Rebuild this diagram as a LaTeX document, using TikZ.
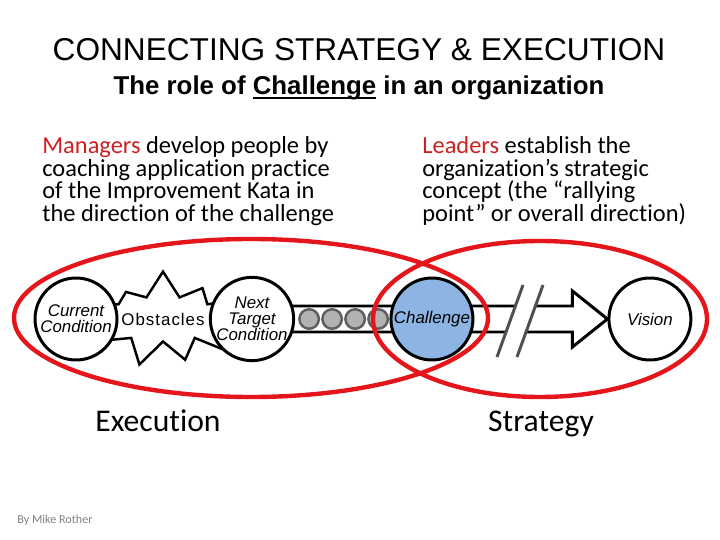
\documentclass[tikz,border=0pt]{standalone}
\usepackage{fontspec}
\setmainfont{Liberation Sans}
\newfontfamily\calibri{Carlito}[Ligatures=NoCommon]
\usetikzlibrary{positioning,calc,shapes.symbols,backgrounds}

\definecolor{ringred}{RGB}{228,22,28}
\definecolor{leadred}{RGB}{205,32,32}
\definecolor{chalblue}{RGB}{141,180,226}
\definecolor{beadgray}{RGB}{178,178,178}
\definecolor{beadedge}{RGB}{95,95,95}
\definecolor{breakgray}{RGB}{80,80,80}

% underline close to the baseline
\newcommand\chalul[1]{\setbox0\hbox{#1}\rlap{\rule[-2.2pt]{\wd0}{1.1pt}}#1}

\tikzset{
  cond/.style={circle, draw, line width=1.7pt, fill=white, minimum size=1.64cm,
    inner sep=0pt, align=center, font=\fontsize{9.6}{9}\selectfont\itshape},
  burst/.style={starburst, draw, line width=1.4pt, fill=white, minimum width=2.2cm,
    minimum height=2cm, starburst points=11, starburst point height=0.55cm,
    random starburst=7, inner sep=0pt},
  bead/.style={circle, draw=beadedge, fill=beadgray, line width=1.4pt,
    minimum size=0.39cm, inner sep=0pt},
  blockarrow/.style={draw, line width=1.7pt, fill=white, line join=miter},
  ring/.style={draw=ringred, line width=2.5pt},
  breakline/.style={draw=breakgray, line width=1.7pt},
  blurb/.style={align=left, inner sep=0pt, anchor=north west,
    font=\calibri\fontsize{13.9}{13}\selectfont},
  part/.style={anchor=base, font=\calibri\fontsize{18}{18}\selectfont},
}

\begin{document}
\begin{tikzpicture}[x=0.02cm, y=-0.02cm, on grid]
\useasboundingbox (0,0) rectangle (720,540);

% headings
\node[anchor=base] (title) at (359,61) {\fontsize{18}{18}\selectfont CONNECTING STRATEGY \& EXECUTION};
\node[anchor=base] (sub) at (359,95) {\fontsize{14.7}{15}\selectfont\bfseries The role of \chalul{Challenge} in an organization};

% who does what
\node[blurb] (mgr) at (42,136) {\textcolor{leadred}{Managers} develop people by\\
  coaching application practice\\
  of the Improvement Kata in\\
  the direction of the challenge};
\node[blurb] (ldr) at (422,136) {\textcolor{leadred}{Leaders} establish the\\
  organization’s strategic\\
  concept (the “rallying\\
  point” or overall direction)};

% the kata chain
\node[burst] (obst) at (163,319) {\addfontfeature{LetterSpace=6}\fontsize{9.6}{10}\selectfont Obstacles};
\node[cond, left=1.74cm of obst] (cur) {Current\\Condition};
\node[cond, right=1.78cm of obst] (next) {Next\\Target\\Condition};
\node[cond, fill=chalblue, right=3.6cm of next] (chal) {Challenge};
\node[cond, right=4.36cm of chal] (vis) {Vision};

\begin{scope}[on background layer]
  \draw[blockarrow] ($(next.center)+(0,-13)$) -- ($(vis.west)+(-35,-13)$)
    -- ($(vis.west)+(-35,-28)$) -- (vis.west) -- ($(vis.west)+(-35,28)$)
    -- ($(vis.west)+(-35,13)$) -- ($(next.center)+(0,13)$) -- cycle;
\end{scope}

\foreach \i in {0,...,3}
  \node[bead] (bead\i) at ($(next.east)+(14+23*\i,0)$) {};

% break in the arrow
\fill[white] (497,357) -- (523,285) -- (543,285) -- (517,357) -- cycle;
\draw[breakline] (497,357) -- (523,285);
\draw[breakline] (517,357) -- (543,285);

% the two rings
\draw[ring] (251,318) ellipse [x radius=237, y radius=79];
\draw[ring] (540,319) ellipse [x radius=167, y radius=78];

\node[part] (exec) at (158,431) {Execution};
\node[part] (strat) at (541,431) {Strategy};

\node[anchor=base west, text=gray, inner sep=0pt, font=\calibri\fontsize{6.9}{7}\selectfont] (by) at (17,523) {By Mike Rother};
\end{tikzpicture}
\end{document}
